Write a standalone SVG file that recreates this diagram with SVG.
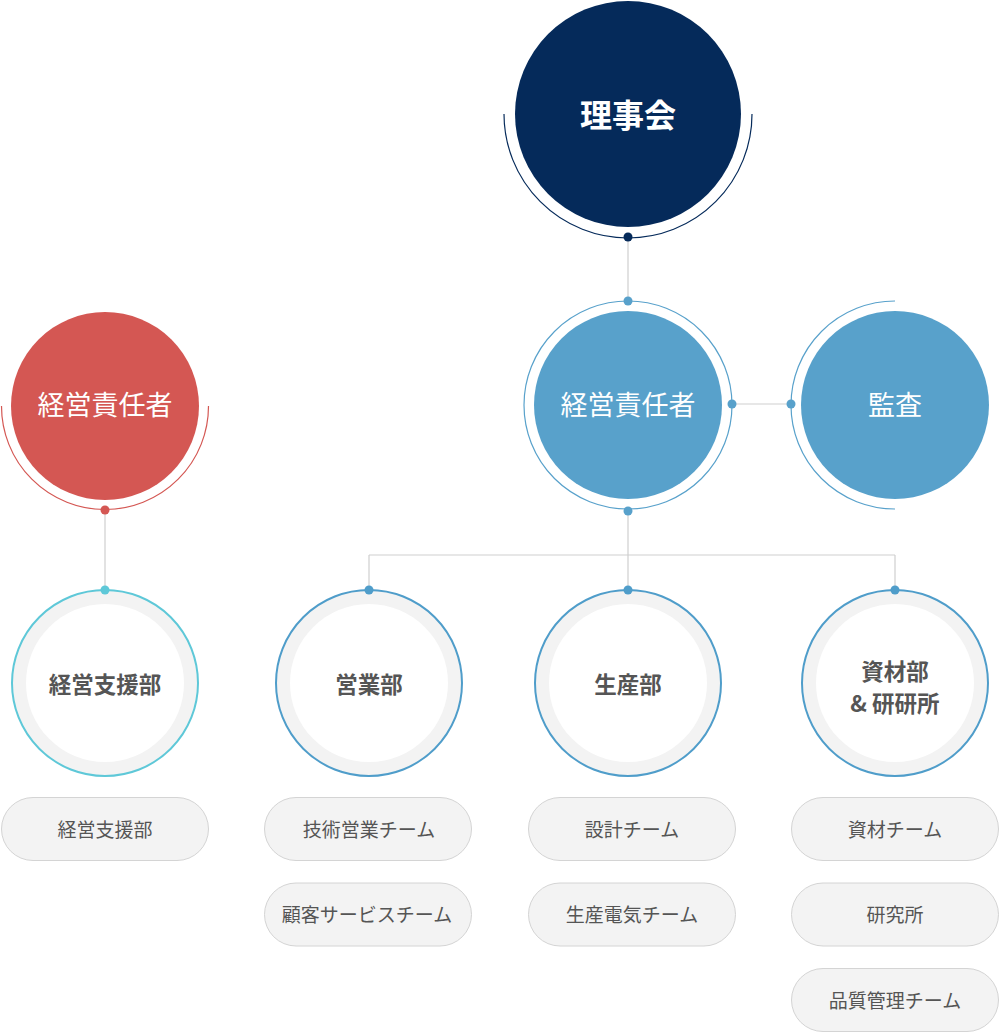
<svg xmlns="http://www.w3.org/2000/svg" width="1000" height="1035" viewBox="0 0 1000 1035">
<style>
text{font-family:"Noto Sans CJK JP","Noto Sans",sans-serif;text-anchor:middle;dominant-baseline:central}
.big{fill:#fff;font-size:27px}
.l3{fill:#555;font-size:22.5px;font-weight:bold}
.pill rect{fill:#f3f3f3;stroke:#d4d4d4;stroke-width:1}
.pill text{fill:#555;font-size:19px}
.ring{fill:#f3f3f3;stroke-width:2}
.conn{stroke:#cfcfcf;stroke-width:1.2;fill:none}
</style>
<g id="connectors">
<path class="conn" d="M628 237V301"/>
<path class="conn" d="M628 511V555M369 555H895M369 555V590M628 555V590M895 555V590"/>
<path class="conn" d="M732 404H791"/>
<path class="conn" d="M105 510V590"/>
</g>
<g id="n-rijikai">
<circle cx="628" cy="114" r="113" fill="#052a5a"/>
<path d="M504 114A124 124 0 0 0 752 114" fill="none" stroke="#052a5a" stroke-width="1.2"/>
<circle cx="628" cy="237" r="4.5" fill="#052a5a"/>
<text x="628" y="113" style="fill:#fff;font-size:32px;font-weight:bold">理事会</text>
</g>
<g id="n-keiei-red">
<circle cx="105" cy="406" r="94" fill="#d45753"/>
<path d="M1.5 406A103.5 103.5 0 0 0 208.5 406" fill="none" stroke="#d45753" stroke-width="1.2"/>
<circle cx="105" cy="510" r="4.5" fill="#d45753"/>
<text class="big" x="105" y="403">経営責任者</text>
</g>
<g id="n-keiei-blue">
<circle cx="628" cy="405" r="94" fill="#58a1cb"/>
<circle cx="628" cy="405" r="104" fill="none" stroke="#58a1cb" stroke-width="1.2"/>
<circle cx="628" cy="301" r="4.5" fill="#58a1cb"/>
<circle cx="628" cy="511" r="4.5" fill="#58a1cb"/>
<circle cx="732" cy="404" r="4.5" fill="#58a1cb"/>
<text class="big" x="628" y="403">経営責任者</text>
</g>
<g id="n-kansa">
<circle cx="895" cy="405" r="94" fill="#58a1cb"/>
<path d="M895 301A104 104 0 0 0 895 509" fill="none" stroke="#58a1cb" stroke-width="1.2"/>
<circle cx="791" cy="404" r="4.5" fill="#58a1cb"/>
<text class="big" x="895" y="403">監査</text>
</g>
<g id="n-shien">
<circle class="ring" cx="105" cy="683" r="93" stroke="#5ec8d8"/>
<circle cx="105" cy="683" r="79" fill="#fff"/>
<circle cx="105" cy="590" r="4.5" fill="#5ec8d8"/>
<text class="l3" x="105" y="683">経営支援部</text>
</g>
<g id="n-eigyo">
<circle class="ring" cx="369" cy="683" r="93" stroke="#4f9dca"/>
<circle cx="369" cy="683" r="79" fill="#fff"/>
<circle cx="369" cy="590" r="4.5" fill="#4f9dca"/>
<text class="l3" x="369" y="683">営業部</text>
</g>
<g id="n-seisan">
<circle class="ring" cx="628" cy="683" r="93" stroke="#4f9dca"/>
<circle cx="628" cy="683" r="79" fill="#fff"/>
<circle cx="628" cy="590" r="4.5" fill="#4f9dca"/>
<text class="l3" x="628" y="683">生産部</text>
</g>
<g id="n-shizai">
<circle class="ring" cx="895" cy="683" r="93" stroke="#4f9dca"/>
<circle cx="895" cy="683" r="79" fill="#fff"/>
<circle cx="895" cy="590" r="4.5" fill="#4f9dca"/>
<text class="l3" x="895" y="670">資材部</text>
<text class="l3" x="895" y="702">&amp; 研研所</text>
</g>
<g id="p-shien" class="pill"><rect x="1.5" y="797.5" width="207" height="63" rx="31.5"/><text x="105" y="828">経営支援部</text></g>
<g id="p-gijutsu" class="pill"><rect x="264.5" y="797.5" width="207" height="63" rx="31.5"/><text x="369" y="828">技術営業チーム</text></g>
<g id="p-kokyaku" class="pill"><rect x="264.5" y="883" width="207" height="63" rx="31.5"/><text x="367" y="913">顧客サービスチーム</text></g>
<g id="p-sekkei" class="pill"><rect x="528.5" y="797.5" width="207" height="63" rx="31.5"/><text x="632" y="828">設計チーム</text></g>
<g id="p-denki" class="pill"><rect x="528.5" y="883" width="207" height="63" rx="31.5"/><text x="632" y="913">生産電気チーム</text></g>
<g id="p-shizai" class="pill"><rect x="791.5" y="797.5" width="207" height="63" rx="31.5"/><text x="895" y="828">資材チーム</text></g>
<g id="p-kenkyu" class="pill"><rect x="791.5" y="883" width="207" height="63" rx="31.5"/><text x="895" y="913">研究所</text></g>
<g id="p-hinshitsu" class="pill"><rect x="791.5" y="968.5" width="207" height="63" rx="31.5"/><text x="895" y="999">品質管理チーム</text></g>
</svg>
